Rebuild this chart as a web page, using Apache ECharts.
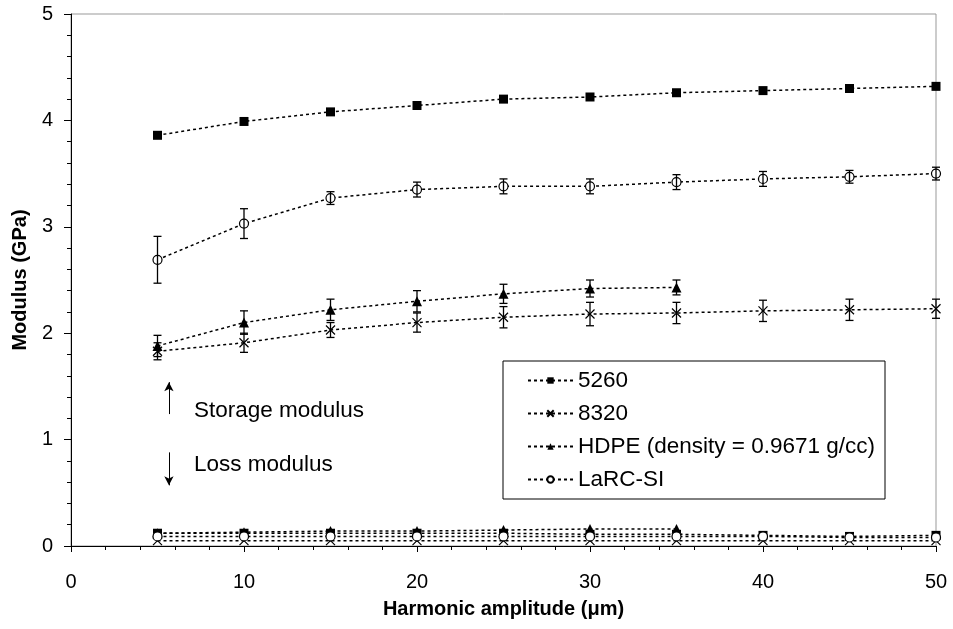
<!DOCTYPE html>
<html>
<head>
<meta charset="utf-8">
<script src="https://cdn.jsdelivr.net/npm/echarts@6/dist/echarts.min.js"></script>
<style>html,body{margin:0;padding:0;background:#fff}#c{width:953px;height:629px}</style>
</head>
<body>
<div id="c"></div>
<script>
const amplitudes = [5, 10, 15, 20, 25, 30, 35, 40, 45, 50];
const hdpeAmplitudes = [5, 10, 15, 20, 25, 30, 35];

const names = ['5260', '8320', 'HDPE (density = 0.9671 g/cc)', 'LaRC-SI'];

// storage modulus (GPa)
const s5260 = [3.86, 3.99, 4.08, 4.14, 4.20, 4.22, 4.26, 4.28, 4.30, 4.32];
const s8320 = [1.83, 1.91, 2.03, 2.10, 2.15, 2.18, 2.19, 2.21, 2.22, 2.23];
const sHDPE = [1.88, 2.10, 2.22, 2.30, 2.37, 2.42, 2.43];
const sLaRC = [2.69, 3.03, 3.27, 3.35, 3.38, 3.38, 3.42, 3.45, 3.47, 3.50];

// error bar half widths
const e8320 = [0.08, 0.09, 0.07, 0.09, 0.10, 0.11, 0.10, 0.10, 0.10, 0.09];
const eHDPE = [0.10, 0.11, 0.10, 0.10, 0.09, 0.08, 0.07];
const eLaRC = [0.22, 0.14, 0.06, 0.07, 0.07, 0.07, 0.07, 0.07, 0.06, 0.06];

// loss modulus (GPa)
const l5260 = [0.12, 0.12, 0.12, 0.12, 0.12, 0.11, 0.11, 0.10, 0.09, 0.10];
const l8320 = [0.05, 0.05, 0.05, 0.05, 0.05, 0.05, 0.05, 0.05, 0.05, 0.05];
const lHDPE = [0.12, 0.13, 0.14, 0.14, 0.15, 0.16, 0.16];
const lLaRC = [0.09, 0.09, 0.09, 0.09, 0.09, 0.09, 0.09, 0.09, 0.08, 0.08];

const xTicks = [0, 10, 20, 30, 40, 50];
const yTicks = [0, 1, 2, 3, 4, 5];

const pairs = (xs, ys) => xs.map((x, i) => [x, ys[i]]);
const errRows = (xs, ys, es) => xs.map((x, i) => [x, ys[i] - es[i], ys[i] + es[i]]);

const crossPath = 'path://M0,0L10,10M10,0L0,10';
const symbols = ['rect', crossPath, 'triangle', 'circle'];
const symSizes = [9, 9, 10, 9];
const FONT = 'Liberation Sans, Arial, sans-serif';

function lineSeries(idx, xs, ys) {
  const hollow = idx === 3, cross = idx === 1;
  return {
    type: 'line',
    name: names[idx],
    data: pairs(xs, ys),
    symbol: symbols[idx],
    symbolSize: symSizes[idx],
    showSymbol: true,
    lineStyle: {color: '#000', width: 1.5, type: [3, 3]},
    itemStyle: {
      color: (hollow || cross) ? '#fff' : '#000',
      borderColor: '#000',
      borderWidth: (hollow || cross) ? 1.2 : 0,
      opacity: 1
    },
    emphasis: {disabled: true},
    z: 3
  };
}

function errSeries(rows) {
  return {
    type: 'custom',
    data: rows,
    z: 4,
    silent: true,
    renderItem: function (params, api) {
      const x = api.value(0);
      const lo = api.coord([x, api.value(1)]);
      const hi = api.coord([x, api.value(2)]);
      const w = 4;
      const st = {stroke: '#000', lineWidth: 1.3};
      return {
        type: 'group',
        children: [
          {type: 'line', shape: {x1: lo[0], y1: lo[1], x2: hi[0], y2: hi[1]}, style: st},
          {type: 'line', shape: {x1: lo[0] - w, y1: lo[1], x2: lo[0] + w, y2: lo[1]}, style: st},
          {type: 'line', shape: {x1: hi[0] - w, y1: hi[1], x2: hi[0] + w, y2: hi[1]}, style: st}
        ]
      };
    }
  };
}

const arrowSeries = {
  type: 'line',
  data: [],
  silent: true,
  markLine: {
    silent: true,
    symbol: ['none', 'arrow'],
    symbolSize: [7, 9],
    label: {show: false},
    lineStyle: {color: '#000', width: 1, type: 'solid'},
    data: [
      [{coord: [5.66, 1.24]}, {coord: [5.66, 1.54]}],
      [{coord: [5.66, 0.88]}, {coord: [5.66, 0.57]}]
    ]
  }
};

const chart = echarts.init(document.getElementById('c'));
chart.setOption({
  animation: false,
  backgroundColor: '#fff',
  grid: {left: 71, right: 17, top: 14, bottom: 83, show: true, borderColor: '#999', borderWidth: 1},
  xAxis: {
    type: 'value', min: 0, max: 50, interval: 10,
    name: 'Harmonic amplitude (\u03bcm)', nameLocation: 'middle', nameGap: 53,
    nameTextStyle: {fontFamily: FONT, fontSize: 20, fontWeight: 'bold', color: '#000'},
    axisLine: {show: true, onZero: false, lineStyle: {color: '#000', width: 1}},
    axisTick: {show: true, inside: false, length: 6, lineStyle: {color: '#000'}},
    minorTick: {show: true, splitNumber: 5, length: 4, lineStyle: {color: '#000'}},
    axisLabel: {fontFamily: FONT, fontSize: 20, color: '#000', margin: 26,
      formatter: v => xTicks.includes(v) ? String(v) : ''},
    splitLine: {show: false}
  },
  yAxis: {
    type: 'value', min: 0, max: 5, interval: 1,
    name: 'Modulus (GPa)', nameLocation: 'middle', nameGap: 36,
    nameTextStyle: {fontFamily: FONT, fontSize: 20, fontWeight: 'bold', color: '#000'},
    axisLine: {show: true, onZero: false, lineStyle: {color: '#000', width: 1}},
    axisTick: {show: true, inside: false, length: 7, lineStyle: {color: '#000'}},
    minorTick: {show: true, splitNumber: 5, length: 4, lineStyle: {color: '#000'}},
    axisLabel: {fontFamily: FONT, fontSize: 20, color: '#000', margin: 18,
      formatter: v => yTicks.includes(v) ? String(v) : ''},
    splitLine: {show: false}
  },
  legend: {
    data: names,
    orient: 'vertical',
    left: 503, top: 361,
    padding: [8, 10, 8, 24],
    itemWidth: 45, itemHeight: 8,
    itemGap: 10,
    backgroundColor: '#fff',
    borderColor: '#000', borderWidth: 1,
    textStyle: {fontFamily: FONT, fontSize: 22.5, color: '#000'},
    selectedMode: false
  },
  graphic: [
    {type: 'text', left: 194, top: 399, style: {text: 'Storage modulus', font: '22.5px ' + FONT, fill: '#000'}},
    {type: 'text', left: 194, top: 453, style: {text: 'Loss modulus', font: '22.5px ' + FONT, fill: '#000'}}
  ],
  series: [
    lineSeries(0, amplitudes, s5260),
    lineSeries(1, amplitudes, s8320),
    lineSeries(2, hdpeAmplitudes, sHDPE),
    lineSeries(3, amplitudes, sLaRC),
    lineSeries(0, amplitudes, l5260),
    lineSeries(1, amplitudes, l8320),
    lineSeries(2, hdpeAmplitudes, lHDPE),
    lineSeries(3, amplitudes, lLaRC),
    errSeries(errRows(amplitudes, s8320, e8320)),
    errSeries(errRows(hdpeAmplitudes, sHDPE, eHDPE)),
    errSeries(errRows(amplitudes, sLaRC, eLaRC)),
    arrowSeries
  ]
});
</script>
</body>
</html>
